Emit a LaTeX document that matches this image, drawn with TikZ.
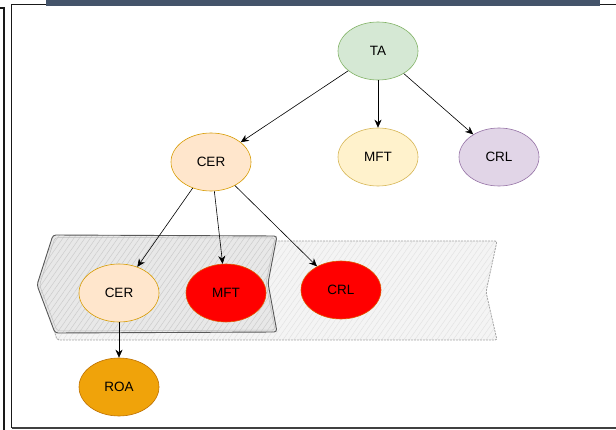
\documentclass[tikz,border=0pt]{standalone}
\usepackage{fontspec}
\setmainfont{Liberation Sans}
\usetikzlibrary{arrows.meta,shapes.geometric,patterns.meta}

\definecolor{barblue}{HTML}{44546A}
\definecolor{taFill}{HTML}{D5E8D4}\definecolor{taLine}{HTML}{82B366}
\definecolor{mftFill}{HTML}{FFF2CC}\definecolor{mftLine}{HTML}{D6B656}
\definecolor{crlFill}{HTML}{E1D5E7}\definecolor{crlLine}{HTML}{9673A6}
\definecolor{cerFill}{HTML}{FFE6CC}\definecolor{cerLine}{HTML}{D79B00}
\definecolor{roaFill}{HTML}{F0A30A}\definecolor{roaLine}{HTML}{BD7000}
\definecolor{hotRed}{HTML}{FF0000}\definecolor{hotLine}{HTML}{E05A00}

\tikzset{
  oval/.style={ellipse, minimum width=80pt, minimum height=58pt, inner sep=0pt,
    line width=0.6pt, font=\fontsize{13.5}{15}\selectfont},
  arr/.style={-{Stealth[length=8pt,width=7pt]}, line width=0.6pt, black},
  frameline/.style={line width=1.9pt, black!90},
}

\begin{document}
\begin{tikzpicture}[x=1pt,y=-1pt]
\useasboundingbox (0,0) rectangle (616,430);
\fill[white] (0,0) rectangle (616,430);

% page frame
\fill[barblue] (46,0) rectangle (600,6.5);
\draw[frameline] (0,8) -- (4,8) -- (4,430);
\draw[frameline] (11.5,428) -- (11.5,4.5) -- (46,4.5);
\draw[frameline] (600,4.5) -- (616,4.5);
\draw[frameline, black!75] (11.5,428) -- (616,428);

% wide group band (dashed)
\fill[gray!9] (60,241) -- (497,241) -- (486,292) -- (497,340) -- (57,340) -- (42,290) -- cycle;
\fill[pattern={Lines[angle=55,distance=4.5pt,line width=0.5pt]}, pattern color=gray!22]
  (60,241) -- (497,241) -- (486,292) -- (497,340) -- (57,340) -- (42,290) -- cycle;
\draw[gray!70, line width=0.8pt, dash pattern=on 2pt off 1pt, rounded corners=2pt]
  (60,241) -- (497,241) -- (486,292) -- (497,340) -- (57,340) -- (42,290) -- cycle;

% narrow group band (solid)
\fill[gray!18] (53,235) -- (277,236) -- (268,283) -- (277,332) -- (55,333) -- (37,285) -- cycle;
\fill[pattern={Lines[angle=55,distance=4.5pt,line width=0.5pt]}, pattern color=gray!40]
  (53,235) -- (277,236) -- (268,283) -- (277,332) -- (55,333) -- (37,285) -- cycle;
\draw[gray!70!black, line width=0.9pt, rounded corners=3pt]
  (53,235) -- (277,236) -- (268,283) -- (277,332) -- (55,333) -- (37,285) -- cycle;
\draw[gray!50, line width=0.5pt, rounded corners=3pt]
  (55,237.5) -- (275,238) -- (266,283) -- (275,330) -- (57,331) -- (39.5,285) -- cycle;

% nodes
\node[oval, fill=taFill, draw=taLine] (ta) at (378,51) {TA};
\node[oval, fill=mftFill, draw=mftLine] (mft) at (378,157) {MFT};
\node[oval, fill=crlFill, draw=crlLine] (crl) at (499,157) {CRL};
\node[oval, fill=cerFill, draw=cerLine] (cer) at (211,162) {CER};
\node[oval, fill=cerFill, draw=cerLine] (cer2) at (119,293) {CER};
\node[oval, fill=hotRed, draw=hotLine] (mft2) at (226,293) {MFT};
\node[oval, fill=hotRed, draw=hotLine] (crl2) at (341,290) {CRL};
\node[oval, fill=roaFill, draw=roaLine] (roa) at (119,387) {ROA};

% connectors
\draw[arr] (ta) -- (cer);
\draw[arr] (ta) -- (mft);
\draw[arr] (ta) -- (crl);
\draw[arr] (cer) -- (cer2);
\draw[arr] (cer) -- (mft2);
\draw[arr] (cer) -- (crl2);
\draw[arr] (cer2) -- (roa);
\end{tikzpicture}
\end{document}
